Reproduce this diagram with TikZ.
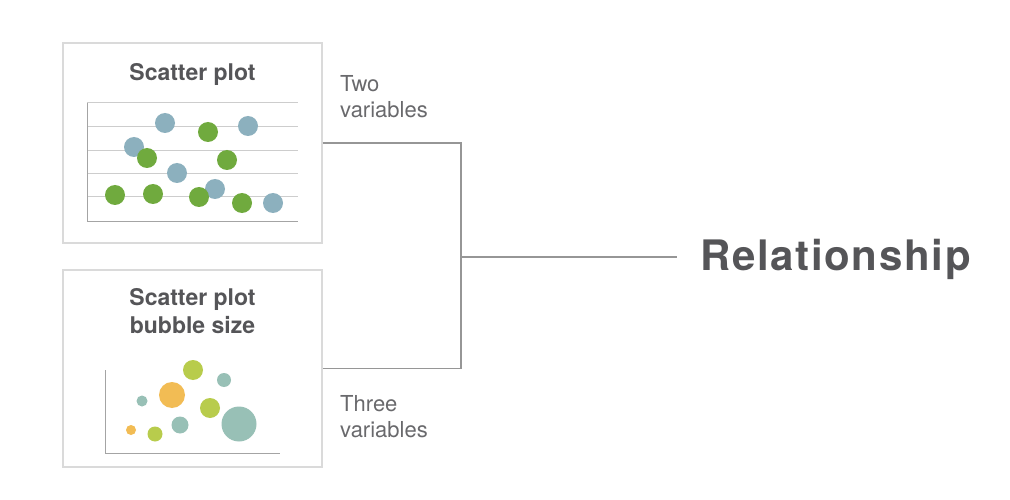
\documentclass[tikz,border=0pt]{standalone}
\usepackage{fontspec}
\setmainfont{TeX Gyre Heros}
\newfontfamily\headfont[LetterSpace=4]{TeX Gyre Heros}
\usetikzlibrary{positioning}
\definecolor{textgray}{RGB}{85,85,88}
\definecolor{labelgray}{RGB}{105,105,108}
\definecolor{framegray}{RGB}{218,218,218}
\definecolor{linkgray}{RGB}{150,150,150}
\definecolor{gridgray}{RGB}{205,205,205}
\definecolor{dotblue}{RGB}{140,176,190}
\definecolor{dotgreen}{RGB}{112,170,62}
\definecolor{bublime}{RGB}{184,204,76}
\definecolor{bubteal}{RGB}{152,192,182}
\definecolor{buborange}{RGB}{242,188,84}
\tikzset{
  panel/.style={
    draw=framegray,
    line width=1.2pt,
    fill=white,
    minimum width=259pt,
    inner sep=0pt
  },
  paneltitle/.style={
    font=\bfseries\fontsize{23}{28}\selectfont,
    text=textgray,
    align=center,
    inner sep=0pt
  },
  note/.style={
    font=\fontsize{22}{26.5}\selectfont,
    text=labelgray,
    align=left,
    inner sep=0pt
  },
  link/.style={
    draw=linkgray,
    line width=1.3pt
  },
  grid/.style={
    draw=gridgray,
    line width=1pt
  },
  axis/.style={
    draw=gridgray!80!black,
    line width=1pt
  }
}
\begin{document}
\begin{tikzpicture}[x=1pt,y=-1pt]
\useasboundingbox (0,0) rectangle (1010,500);

% Chart panels.
\node[panel, minimum height=200pt] (scatter) at (192.5,143) {};
\node[panel, minimum height=197pt] (bubble) at (192.5,368.5) {};

\node[paneltitle, anchor=north] (scattertitle) at (192.5,63) {Scatter plot};
\node[paneltitle, anchor=north] (bubbletitle) at (192.5,288) {Scatter plot\\bubble size};

% Scatter plot grid and dots.
\foreach \gy in {103,127,151,174,197}
  \draw[grid] (87,\gy) -- (298,\gy);
\draw[axis] (87,103) -- (87,221) -- (298,221);
\foreach \dx/\dy in {165/123,248/126,134/147,177/173,215/189,273/203}
  \fill[dotblue] (\dx,\dy) circle (10);
\foreach \dx/\dy in {208/132,147/158,227/160,115/195,153/194,199/197,242/203}
  \fill[dotgreen] (\dx,\dy) circle (10);

% Bubble chart.
\draw[axis] (105,370) -- (105,453) -- (280,453);
\foreach \bx/\by/\br/\bc in {193/370/10/bublime,224/380/7/bubteal,172/395/13/buborange,
    142/401/5.5/bubteal,210/408/10/bublime,180/425/8.5/bubteal,239/424/17.5/bubteal,
    131/430/5/buborange,155/434/7.5/bublime}
  \fill[\bc] (\bx,\by) circle (\br);

% Labels and target.
\node[note, anchor=north west] (twovar) at (340,75) {Two\\variables};
\node[note, anchor=north west] (threevar) at (340,395) {Three\\variables};
\node[font=\headfont\bfseries\fontsize{42}{48}\selectfont, text=textgray,
  anchor=west, inner sep=0pt] (relation) at (700,259) {Relationship};

% Connectors.
\coordinate (join) at (461,257);
\coordinate (joinend) at (677,257);
\draw[link] (scatter.east) -| (join) |- (bubble.east);
\draw[link] (join) -- (joinend);

\end{tikzpicture}
\end{document}
